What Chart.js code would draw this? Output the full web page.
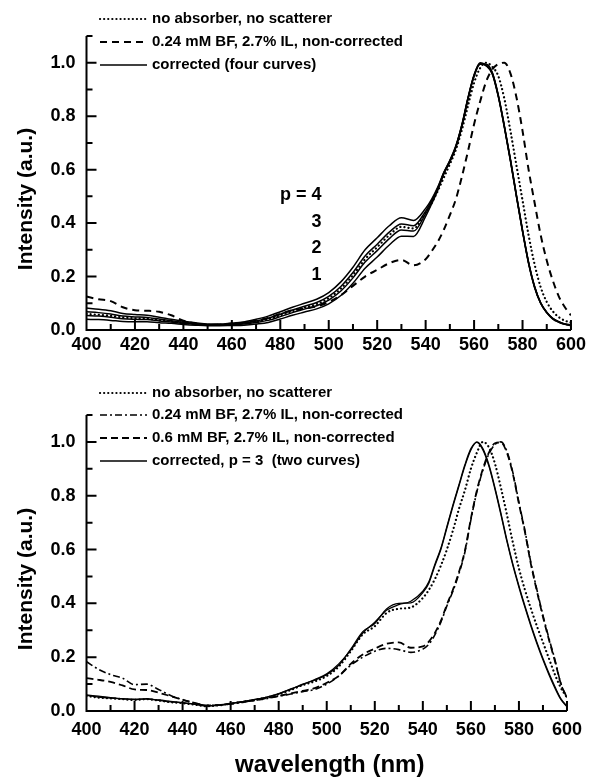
<!DOCTYPE html>
<html>
<head>
<meta charset="utf-8">
<script src="https://cdn.jsdelivr.net/npm/chart.js@4.4.1/dist/chart.umd.min.js"></script>
<style>
    body { margin: 0; background: #fff; }
    canvas { position: absolute; left: 0; }
    #c-top { top: 0; }
    #c-bot { top: 380px; }
</style>
</head>
<body>
<canvas id="c-top" width="590" height="365"></canvas>
<canvas id="c-bot" width="590" height="397"></canvas>
<script>
// wavelength grid (nm), 5 nm steps then 2.5 nm across the peak
const WL = [400, 405, 410, 415, 420, 425, 430, 435, 440, 445, 450, 455, 460, 465, 470, 475, 480, 485, 490, 495,
    500, 505, 510, 515, 520, 525, 530, 535, 540, 542.5, 545, 547.5, 550, 552.5, 555, 557.5, 560, 562.5, 565,
    567.5, 570, 572.5, 575, 577.5, 580, 582.5, 585, 587.5, 590, 592.5, 595, 597.5, 600];

// top panel
const TOP_NOABS = [0.060, 0.057, 0.053, 0.047, 0.044, 0.042, 0.037, 0.032, 0.027, 0.022, 0.019, 0.019, 0.022, 0.025, 0.031, 0.040, 0.055, 0.070, 0.084, 0.097,
    0.119, 0.155, 0.205, 0.265, 0.310, 0.355, 0.386, 0.380, 0.440, 0.475, 0.520, 0.570, 0.620, 0.675, 0.750, 0.840, 0.925, 0.980, 1.000,
    0.985, 0.950, 0.865, 0.745, 0.615, 0.485, 0.355, 0.245, 0.160, 0.105, 0.070, 0.048, 0.035, 0.028];
const TOP_BF024 = [0.125, 0.115, 0.108, 0.085, 0.074, 0.072, 0.068, 0.055, 0.035, 0.024, 0.019, 0.020, 0.024, 0.028, 0.035, 0.045, 0.060, 0.074, 0.080, 0.088,
    0.105, 0.130, 0.165, 0.200, 0.225, 0.250, 0.262, 0.242, 0.265, 0.295, 0.330, 0.375, 0.430, 0.490, 0.575, 0.670, 0.770, 0.855, 0.930,
    0.975, 0.995, 1.000, 0.960, 0.870, 0.745, 0.600, 0.475, 0.355, 0.260, 0.185, 0.125, 0.085, 0.055];
const TOP_P4 = [0.082, 0.078, 0.072, 0.062, 0.058, 0.055, 0.048, 0.040, 0.033, 0.027, 0.022, 0.022, 0.026, 0.030, 0.040, 0.052, 0.068, 0.085, 0.100, 0.115,
    0.140, 0.180, 0.235, 0.300, 0.345, 0.390, 0.420, 0.410, 0.455, 0.490, 0.535, 0.590, 0.635, 0.690, 0.770, 0.870, 0.955, 1.000, 0.990,
    0.960, 0.875, 0.760, 0.635, 0.500, 0.370, 0.250, 0.160, 0.100, 0.065, 0.042, 0.030, 0.022, 0.018];
const TOP_P3 = [0.068, 0.065, 0.060, 0.052, 0.049, 0.047, 0.041, 0.035, 0.029, 0.024, 0.020, 0.020, 0.023, 0.026, 0.034, 0.044, 0.059, 0.075, 0.089, 0.103,
    0.126, 0.163, 0.215, 0.277, 0.321, 0.366, 0.397, 0.390, 0.445, 0.484, 0.531, 0.588, 0.633, 0.688, 0.768, 0.868, 0.953, 0.998, 0.992,
    0.962, 0.877, 0.762, 0.637, 0.502, 0.372, 0.252, 0.161, 0.101, 0.066, 0.043, 0.030, 0.022, 0.018];
const TOP_P2 = [0.054, 0.052, 0.048, 0.042, 0.040, 0.039, 0.034, 0.030, 0.025, 0.021, 0.018, 0.018, 0.020, 0.022, 0.028, 0.036, 0.050, 0.065, 0.078, 0.091,
    0.112, 0.146, 0.195, 0.254, 0.297, 0.342, 0.374, 0.370, 0.435, 0.478, 0.527, 0.586, 0.631, 0.686, 0.766, 0.866, 0.951, 0.996, 0.988,
    0.958, 0.873, 0.758, 0.633, 0.498, 0.368, 0.248, 0.158, 0.099, 0.064, 0.041, 0.029, 0.021, 0.017];
const TOP_P1 = [0.040, 0.039, 0.036, 0.032, 0.031, 0.031, 0.027, 0.025, 0.021, 0.018, 0.016, 0.016, 0.017, 0.018, 0.022, 0.028, 0.041, 0.055, 0.067, 0.079,
    0.098, 0.129, 0.175, 0.231, 0.273, 0.318, 0.351, 0.350, 0.425, 0.472, 0.523, 0.584, 0.629, 0.684, 0.764, 0.864, 0.949, 0.994, 0.994,
    0.964, 0.879, 0.764, 0.639, 0.504, 0.374, 0.254, 0.163, 0.102, 0.067, 0.044, 0.031, 0.023, 0.019];

// bottom panel
const BOT_NOABS = [0.056, 0.050, 0.047, 0.044, 0.041, 0.044, 0.039, 0.033, 0.029, 0.024, 0.018, 0.021, 0.027, 0.034, 0.041, 0.050, 0.062, 0.078, 0.096, 0.110,
    0.130, 0.165, 0.222, 0.285, 0.315, 0.365, 0.380, 0.385, 0.420, 0.450, 0.490, 0.540, 0.600, 0.670, 0.750, 0.820, 0.900, 0.960, 1.000,
    0.980, 0.920, 0.830, 0.730, 0.625, 0.530, 0.450, 0.380, 0.315, 0.255, 0.195, 0.135, 0.085, 0.050];
const BOT_BF024 = [0.183, 0.155, 0.135, 0.122, 0.098, 0.100, 0.080, 0.058, 0.042, 0.030, 0.021, 0.022, 0.026, 0.032, 0.040, 0.046, 0.055, 0.063, 0.072, 0.080,
    0.100, 0.130, 0.170, 0.200, 0.222, 0.233, 0.228, 0.218, 0.230, 0.248, 0.283, 0.330, 0.390, 0.445, 0.510, 0.590, 0.710, 0.815, 0.895,
    0.955, 0.990, 1.000, 0.965, 0.885, 0.775, 0.670, 0.550, 0.450, 0.355, 0.270, 0.190, 0.100, 0.050];
const BOT_BF06 = [0.122, 0.116, 0.108, 0.095, 0.080, 0.078, 0.068, 0.055, 0.042, 0.030, 0.021, 0.022, 0.027, 0.034, 0.040, 0.048, 0.056, 0.065, 0.075, 0.085,
    0.105, 0.130, 0.175, 0.210, 0.232, 0.250, 0.255, 0.235, 0.240, 0.258, 0.290, 0.335, 0.395, 0.450, 0.515, 0.595, 0.715, 0.820, 0.900,
    0.960, 0.995, 0.998, 0.960, 0.880, 0.770, 0.665, 0.545, 0.445, 0.350, 0.265, 0.185, 0.100, 0.050];
const BOT_CORR1 = [0.058, 0.052, 0.048, 0.045, 0.042, 0.046, 0.040, 0.034, 0.030, 0.025, 0.018, 0.022, 0.028, 0.035, 0.042, 0.052, 0.065, 0.080, 0.100, 0.115,
    0.135, 0.170, 0.230, 0.295, 0.325, 0.380, 0.400, 0.402, 0.440, 0.475, 0.540, 0.600, 0.680, 0.760, 0.835, 0.910, 0.970, 1.000, 0.975,
    0.915, 0.830, 0.735, 0.635, 0.545, 0.465, 0.390, 0.320, 0.255, 0.195, 0.140, 0.090, 0.045, 0.018];
const BOT_CORR2 = [0.060, 0.055, 0.050, 0.046, 0.044, 0.044, 0.041, 0.036, 0.031, 0.026, 0.020, 0.021, 0.027, 0.034, 0.043, 0.051, 0.063, 0.082, 0.098, 0.117,
    0.138, 0.175, 0.226, 0.290, 0.330, 0.375, 0.395, 0.408, 0.445, 0.480, 0.545, 0.605, 0.685, 0.765, 0.840, 0.915, 0.975, 0.998, 0.970,
    0.910, 0.825, 0.730, 0.630, 0.540, 0.460, 0.385, 0.315, 0.250, 0.190, 0.135, 0.085, 0.042, 0.016];

const LEGEND_TOP = ['no absorber, no scatterer', '0.24 mM BF, 2.7% IL, non-corrected', 'corrected (four curves)'];
const LEGEND_BOT = ['no absorber, no scatterer', '0.24 mM BF, 2.7% IL, non-corrected',
    '0.6 mM BF, 2.7% IL, non-corrected', 'corrected, p = 3  (two curves)'];
const P_LABELS = ['p = 4', '3', '2', '1'];
const Y_TITLE = 'Intensity (a.u.)';
const X_TITLE = 'wavelength (nm)';

const FONT = '"Liberation Sans", Arial, Helvetica, sans-serif';
const DOTTED = { borderDash: [0.1, 4], borderCapStyle: 'round', borderWidth: 2.2 };

const pts = (vals) => WL.map((x, i) => ({ x, y: vals[i] }));
const line = (vals, style) => Object.assign({ data: pts(vals), borderColor: '#000', borderWidth: 1.6 }, style);

// axis lines and inward ticks (minor every 10 nm / 0.1, major every 20 nm / 0.2)
const inwardAxes = {
    id: 'inwardAxes',
    afterDatasetsDraw(chart) {
        const { ctx, chartArea: a, scales: { x, y } } = chart;
        ctx.save();
        ctx.strokeStyle = '#000';
        ctx.lineWidth = 2;
        ctx.beginPath();
        ctx.moveTo(a.left, a.top);
        ctx.lineTo(a.left, a.bottom);
        ctx.lineTo(a.right, a.bottom);
        x.ticks.forEach((t) => {
            const px = x.getPixelForValue(t.value);
            const len = Math.round(t.value) % 20 === 0 ? 10 : 6;
            ctx.moveTo(px, a.bottom);
            ctx.lineTo(px, a.bottom - len);
        });
        y.ticks.forEach((t) => {
            const py = y.getPixelForValue(t.value);
            const len = Math.round(t.value * 10) % 2 === 0 ? 10 : 6;
            ctx.moveTo(a.left, py);
            ctx.lineTo(a.left + len, py);
        });
        ctx.stroke();
        ctx.restore();
    },
};

const sketchLegend = {
    id: 'sketchLegend',
    afterDraw(chart, args, o) {
        const { ctx } = chart;
        ctx.save();
        o.items.forEach((it, i) => {
            const ds = chart.data.datasets[it.ds];
            const y = o.y[i];
            ctx.beginPath();
            ctx.strokeStyle = '#000';
            ctx.lineWidth = ds.borderWidth;
            ctx.lineCap = ds.borderCapStyle || 'butt';
            ctx.setLineDash(ds.borderDash || []);
            ctx.moveTo(o.x0, y);
            ctx.lineTo(o.x1, y);
            ctx.stroke();
            ctx.setLineDash([]);
            ctx.fillStyle = '#000';
            ctx.font = `bold 15px ${FONT}`;
            ctx.textBaseline = 'middle';
            ctx.fillText(it.text, o.x1 + 5, y);
        });
        ctx.restore();
    },
};

const axisTitles = {
    id: 'axisTitles',
    afterDraw(chart, args, o) {
        const { ctx, chartArea: a } = chart;
        ctx.save();
        ctx.fillStyle = '#000';
        ctx.textAlign = 'center';
        ctx.textBaseline = 'middle';
        ctx.font = `bold 21px ${FONT}`;
        ctx.translate(26, (a.top + a.bottom) / 2 + 16);
        ctx.rotate(-Math.PI / 2);
        ctx.fillText(o.y, 0, 0);
        ctx.restore();
        if (o.x) {
            ctx.save();
            ctx.fillStyle = '#000';
            ctx.textAlign = 'center';
            ctx.textBaseline = 'alphabetic';
            ctx.font = `bold 24px ${FONT}`;
            ctx.fillText(o.x, (a.left + a.right) / 2 + 3, o.xBaseline);
            ctx.restore();
        }
    },
};

const noteText = {
    id: 'noteText',
    afterDraw(chart, args, o) {
        if (!o.items) return;
        const { ctx, scales: { x, y } } = chart;
        ctx.save();
        ctx.fillStyle = '#000';
        ctx.font = `bold 18px ${FONT}`;
        ctx.textBaseline = 'middle';
        o.items.forEach((n) => {
            ctx.textAlign = n.align;
            ctx.fillText(n.text, x.getPixelForValue(n.x), y.getPixelForValue(n.y));
        });
        ctx.restore();
    },
};

function makeChart(id, datasets, cfg) {
    const tickFont = { family: FONT, size: 18, weight: 'bold' };
    return new Chart(document.getElementById(id), {
        type: 'line',
        data: { datasets },
        options: {
            responsive: false, animation: false, events: [],
            layout: { padding: { top: cfg.top, right: 17, left: 0, bottom: 0 } },
            elements: { point: { radius: 0 }, line: { cubicInterpolationMode: 'monotone', fill: false } },
            plugins: {
                legend: { display: false }, tooltip: { enabled: false },
                sketchLegend: cfg.legend,
                axisTitles: { y: Y_TITLE, x: cfg.xTitle, xBaseline: cfg.xBaseline },
                noteText: { items: cfg.notes },
            },
            scales: {
                x: {
                    type: 'linear', min: 400, max: 600,
                    afterFit: (s) => { s.height = cfg.xh; },
                    grid: { display: false, drawTicks: false }, border: { display: false },
                    ticks: {
                        stepSize: 10, autoSkip: false, maxRotation: 0, padding: cfg.xpad, color: '#000', font: tickFont,
                        callback: (v) => (Math.round(v) % 20 === 0 ? String(Math.round(v)) : ''),
                    },
                },
                y: {
                    min: 0, max: 1.1,
                    afterFit: (s) => { s.width = 86.5; },
                    grid: { display: false, drawTicks: false }, border: { display: false },
                    ticks: {
                        stepSize: 0.1, autoSkip: false, padding: 11, color: '#000', font: tickFont,
                        callback: (v) => {
                            const k = Math.round(v * 10);
                            return k % 2 === 0 && k <= 10 ? (k / 10).toFixed(1) : '';
                        },
                    },
                },
            },
        },
        plugins: [inwardAxes, sketchLegend, axisTitles, noteText],
    });
}

makeChart('c-top', [
    line(TOP_NOABS, DOTTED),
    line(TOP_BF024, { borderDash: [7, 5], borderWidth: 2 }),
    line(TOP_P4, { borderWidth: 1.5 }),
    line(TOP_P3, { borderWidth: 1.5 }),
    line(TOP_P2, { borderWidth: 1.5 }),
    line(TOP_P1, { borderWidth: 1.5 }),
], {
    top: 36, xh: 35, xpad: 4,
    legend: {
        x0: 100, x1: 147, y: [19, 42, 65],
        items: [{ ds: 0, text: LEGEND_TOP[0] }, { ds: 1, text: LEGEND_TOP[1] }, { ds: 2, text: LEGEND_TOP[2] }],
    },
    notes: [
        { text: P_LABELS[0], x: 497, y: 0.505, align: 'right' },
        { text: P_LABELS[1], x: 495, y: 0.404, align: 'center' },
        { text: P_LABELS[2], x: 495, y: 0.307, align: 'center' },
        { text: P_LABELS[3], x: 495, y: 0.206, align: 'center' },
    ],
});

makeChart('c-bot', [
    line(BOT_NOABS, DOTTED),
    line(BOT_BF024, { borderDash: [7, 3, 2, 3], borderWidth: 1.6 }),
    line(BOT_BF06, { borderDash: [7, 4], borderWidth: 1.8 }),
    line(BOT_CORR1, { borderWidth: 1.3 }),
    line(BOT_CORR2, { borderWidth: 1.3 }),
], {
    top: 35, xh: 66, xpad: 8, xTitle: X_TITLE, xBaseline: 392,
    legend: {
        x0: 100, x1: 147, y: [13, 35, 58, 81],
        items: [{ ds: 0, text: LEGEND_BOT[0] }, { ds: 1, text: LEGEND_BOT[1] }, { ds: 2, text: LEGEND_BOT[2] }, { ds: 3, text: LEGEND_BOT[3] }],
    },
});
</script>
</body>
</html>
